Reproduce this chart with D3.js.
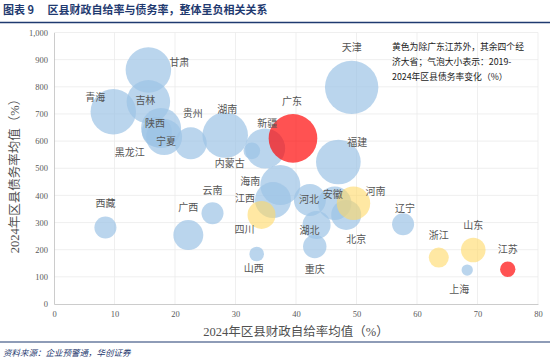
<!DOCTYPE html>
<html><head><meta charset="utf-8">
<script src="https://cdn.jsdelivr.net/npm/d3@7"></script>
<style>
html,body{margin:0;padding:0;background:#fff;}
svg{display:block;}
</style></head>
<body>
<svg id="chart" width="550" height="364"></svg>
<script>
// ---- data ----
const provinces = ["天津","甘肃","青海","吉林","陕西","宁夏","黑龙江","贵州","湖南","内蒙古","新疆","福建","西藏","广西","云南","山西","海南","江西","河北","湖北","重庆","安徽","北京","辽宁","上海","四川","河南","浙江","山东","广东","江苏"];
const selfSufficiency = [49.2,15.6,9.8,15.6,17.7,18.2,17.0,22.6,28.3,32.7,34.9,47.0,8.5,22.2,26.2,33.5,37.4,36.2,42.3,43.4,43.1,46.4,48.3,57.7,68.3,34.3,49.5,63.6,69.3,39.5,75.0];
const debtRatio = [798,862,708,745,648,615,634,592,622,564,573,523,282,254,334,184,438,383,383,291,212,371,328,294,125,328,371,171,199,610,128];
const debtChange = [400,290,290,265,225,182,126,144,290,39,225,280,68,126,68,30,225,182,144,110,77,157,126,68,18,110,157,56,85,332,33];
const bigFour = ["四川","河南","浙江","山东"];
const highlight = ["广东","江苏"];
const xTicks = [0,10,20,30,40,50,60,70,80];
const yTicks = [0,100,200,300,400,500,600,700,800,900,1000];

// label layout offsets (px) relative to bubble centers
const labelOffset = {"天津":[0,-41],"甘肃":[31,-8],"青海":[-18,-15],"吉林":[-3,-2],"陕西":[-6,-6],"宁夏":[2,3],"黑龙江":[-27,20],"贵州":[2,-31],"湖南":[2,-27],"内蒙古":[-22,12],"新疆":[2,-26],"福建":[19,-21],"西藏":[0,-25],"广西":[0,-29],"云南":[0,-24],"山西":[-3,13],"海南":[-30,-5],"江西":[-28,-3],"河北":[-1,-2],"湖北":[-7,5],"重庆":[0,22],"安徽":[-2,-10],"北京":[10,24],"辽宁":[2,-17],"上海":[-8,18],"四川":[-17,14],"河南":[22,-13],"浙江":[0,-23],"山东":[0,-25],"广东":[-1,-38],"江苏":[0,-21]};

const data = provinces.map((p,i)=>({name:p,x:selfSufficiency[i],y:debtRatio[i],s:debtChange[i],
  grp: highlight.includes(p)?"red":(bigFour.includes(p)?"yellow":"blue")}));

const svg = d3.select("#chart");
const M = {left:54,right:538,top:32.5,bottom:304};
const x = d3.scaleLinear().domain([0,80]).range([M.left,M.right]);
const y = d3.scaleLinear().domain([0,1000]).range([M.bottom,M.top]);
const r = d3.scaleSqrt().domain([0,400]).range([0,26.7]);

// title
svg.append("text").attr("x",3).attr("y",14).attr("font-family","Noto Sans CJK SC").attr("font-weight","bold")
  .attr("font-size",11).attr("fill","#1f3a70").text("图表 9\u2003 区县财政自给率与债务率，整体呈负相关关系");
svg.append("line").attr("x1",0).attr("x2",550).attr("y1",22.5).attr("y2",22.5).attr("stroke","#1f3a70").attr("stroke-width",1.5);

// grid
const g = svg.append("g");
g.selectAll(".hg").data(yTicks.slice(1)).join("line").attr("x1",M.left).attr("x2",M.right)
  .attr("y1",d=>y(d)).attr("y2",d=>y(d)).attr("stroke","#ebebeb").attr("stroke-width",0.8);
g.selectAll(".vg").data(xTicks.slice(1)).join("line").attr("y1",M.top).attr("y2",M.bottom)
  .attr("x1",d=>x(d)).attr("x2",d=>x(d)).attr("stroke","#ebebeb").attr("stroke-width",0.8);

// axes
const xAxis = svg.append("g").attr("transform",`translate(0,${M.bottom})`)
  .call(d3.axisBottom(x).tickValues(xTicks).tickSize(0).tickPadding(7));
const yAxis = svg.append("g").attr("transform",`translate(${M.left},0)`)
  .call(d3.axisLeft(y).tickValues(yTicks).tickSize(0).tickPadding(6).tickFormat(d3.format(",")));
[xAxis,yAxis].forEach(a=>{
  a.select(".domain").attr("stroke","#bfbfbf").attr("stroke-width",0.8);
  a.selectAll("text").attr("font-family","Liberation Serif").attr("font-size",8.5).attr("fill","#595959");
});

// bubbles
const colors = {blue:["#9dc3e6",0.7],yellow:["#ffd966",0.6],red:["#ff0000",0.68]};
const order = ["blue","yellow","red"];
const sorted = data.slice().sort((a,b)=>order.indexOf(a.grp)-order.indexOf(b.grp));
svg.append("g").selectAll("circle").data(sorted).join("circle")
  .attr("cx",d=>x(d.x)).attr("cy",d=>y(d.y)).attr("r",d=>r(d.s))
  .attr("fill",d=>colors[d.grp][0]).attr("fill-opacity",d=>colors[d.grp][1]);

// labels
svg.append("g").selectAll("text").data(data).join("text")
  .attr("x",d=>x(d.x)+labelOffset[d.name][0]).attr("y",d=>y(d.y)+labelOffset[d.name][1])
  .attr("text-anchor","middle").attr("dominant-baseline","central")
  .attr("font-family","Noto Sans CJK SC").attr("font-size",10).attr("fill","#555").text(d=>d.name);

// annotation
const note = ["黄色为除广东江苏外，其余四个经","济大省；气泡大小表示：2019-","2024年区县债务率变化（%）"];
svg.append("g").selectAll("text").data(note).join("text")
  .attr("x",392).attr("y",(d,i)=>50+i*15).attr("font-family","Noto Sans CJK SC")
  .attr("font-size",8.8).attr("fill","#222").text(d=>d);

// axis titles
svg.append("text").attr("x",(M.left+M.right)/2).attr("y",336).attr("text-anchor","middle")
  .attr("font-family","Liberation Serif, Noto Sans CJK SC").attr("font-size",12.5).attr("fill","#505050")
  .text("2024年区县财政自给率均值（%）");
svg.append("text").attr("transform","translate(19,173) rotate(-90)").attr("text-anchor","middle")
  .attr("font-family","Liberation Serif, Noto Sans CJK SC").attr("font-size",12.5).attr("fill","#505050")
  .text("2024年区县债务率均值（%）");

// footer
svg.append("line").attr("x1",0).attr("x2",550).attr("y1",342).attr("y2",342).attr("stroke","#1f3a70").attr("stroke-width",1.2);
svg.append("text").attr("x",3).attr("y",356).attr("font-family","Noto Sans CJK SC").attr("font-style","italic")
  .attr("font-size",8.5).attr("fill","#1f3a70").text("资料来源：企业预警通，华创证券");
</script>
</body></html>
